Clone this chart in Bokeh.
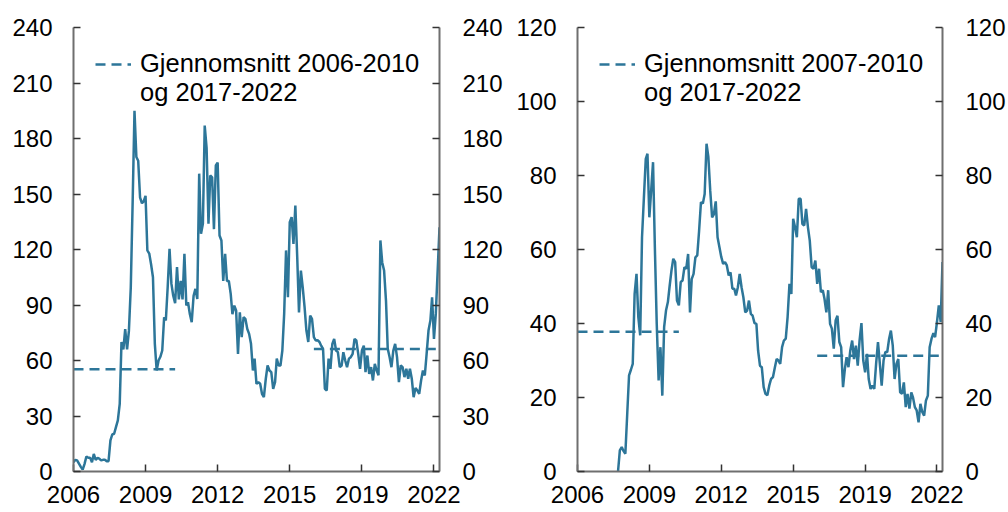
import pandas as pd
from bokeh.plotting import figure
from bokeh.layouts import row
from bokeh.models import (Range1d, LinearAxis, FixedTicker, DatetimeTickFormatter,
                          Legend, LegendItem)
from bokeh.embed import file_html
from bokeh.resources import INLINE

# ---------------- data ----------------
left_start = "2006-01-01"
left_values = [
    5, 6.3, 6, 4.2, 2.5, 1, 4, 8.1, 7.4, 7.5,
    5, 9.5, 6.3, 7.4, 7, 6, 6.3, 6.3, 5.6, 5.6,
    16.8, 20, 20.4, 24, 27.6, 36.6, 70, 66, 77, 66,
    76, 99.6, 146, 195, 170, 168, 148, 145, 146, 149,
    119.5, 117.8, 112, 105, 69, 54.6, 60, 62, 65.4, 83.4,
    81.6, 100, 120.4, 101.4, 95, 91, 110.5, 93, 103, 93,
    117.7, 89.7, 91.5, 85, 80.7, 95, 98.7, 93.3, 161, 128.5,
    133.9, 187, 175, 134, 160, 159, 131, 165.4, 167, 127.6,
    124.9, 103, 117.7, 103, 103, 96, 85, 89.7, 87, 63.6,
    86, 72.6, 83.4, 82.5, 77, 74.4, 69, 54.6, 61, 47.4,
    48.3, 47.4, 42, 40.2, 50, 57.3, 54.6, 53.7, 44.7, 48.3,
    61, 57.3, 57.3, 65.4, 85.2, 119.5, 94.2, 134.8, 137.5, 123,
    143.8, 115.8, 86, 108.6, 99.6, 88.8, 76.2, 70, 84.3, 82.5,
    72.6, 70.8, 71, 70, 68, 66.3, 44.7, 43.8, 61, 55.5,
    69, 71.7, 65.4, 64.5, 56.4, 57.3, 64.5, 60, 56.4, 61,
    61.8, 63.6, 71.7, 70.8, 63.6, 55.5, 65.4, 68, 53.7, 62.7,
    52.8, 56.4, 49.2, 58.2, 54.6, 52, 124.9, 113, 108.6, 92.4,
    66.3, 61.8, 56.4, 65.4, 69, 61.8, 48.3, 57.3, 56.4, 51,
    55.5, 50.1, 55.5, 50.1, 40.2, 45.2, 43.8, 42, 49.2, 54.6,
    51.9, 63.6, 76.2, 81.6, 94.2, 71.7, 85.2, 108.6, 132,
]

right_start = "2007-11-01"
right_values = [
    0, 5.7, 6.6, 5.5, 4.8, 15.6, 26, 27.5,
    29.1, 48, 53.4, 41.7, 36.8, 63.3, 74, 84.5, 85.9, 68.7,
    75.9, 83.6, 60.6, 39.9, 24.6, 33.6, 20.5, 39, 43.5, 45.8,
    50, 54.3, 57.5, 56.6, 46.2, 44.9, 51.2, 51.6, 55.2, 54.8,
    58.8, 43, 52, 53.4, 57.9, 58.4, 65, 72.8, 72.4, 75,
    88.6, 85, 75.9, 68.7, 69.5, 73, 63.3, 60.6, 58, 56.1,
    56.6, 55.7, 53, 53.8, 49.4, 49.4, 47.6, 49.8, 53.4, 49.8,
    47.1, 43, 43.5, 46.2, 42.6, 42.1, 40.1, 39.9, 32.7, 28.6,
    28.2, 22.8, 21, 20.6, 23.2, 25, 25.5, 28, 30.4, 30,
    29.1, 33.6, 35.4, 35.9, 41.7, 50.7, 48, 68.3, 66, 63.3,
    73.7, 73.7, 66.9, 66.5, 71, 66, 62.4, 55.2, 54.8, 57,
    50.7, 54.8, 48.5, 49, 46.7, 43, 49, 39.9, 38.6, 33.2,
    40.8, 42.1, 35, 33.6, 22.8, 27.8, 30.9, 28.2, 32.7, 35.4,
    30.4, 34, 28.6, 35.4, 40.1, 30, 26.8, 31.8, 25, 22.3,
    23.2, 22.3, 29.1, 35, 29.1, 23.2, 30, 32.3, 32.3, 35.9,
    38.1, 34, 25, 29.1, 30.4, 21.4, 21, 24.1, 17.4, 21,
    17, 21.4, 20, 17.4, 16.5, 13.3, 18.3, 16.1, 15.1, 19.2,
    20.5, 33.6, 35.9, 37.4, 36.3, 40.4, 44.9, 40.4, 56.6,
]

# averages (dashed lines)
mean_periods = [("2006-01-01", "2010-08-01"), ("2016-11-01", "2022-05-01")]
left_means = [55.3, 66.2]
right_means = [37.8, 31.3]

left_legend = ["Gjennomsnitt 2006-2010", "og 2017-2022"]
right_legend = ["Gjennomsnitt 2007-2010", "og 2017-2022"]

x_start, x_end = "2006-01-01", "2022-07-01"
x_tick_dates = ["2006-01-01", "2009-04-01", "2012-07-01", "2015-10-01",
                "2019-01-01", "2022-04-01"]
left_yticks = list(range(0, 241, 30))
right_yticks = list(range(0, 121, 20))

# ---------------- style ----------------
COLOR = "#2d7699"
FONT = "Liberation Sans"
FS = "24px"
LEG_FS = "25.5px"


def ms(d):
    return pd.Timestamp(d).value / 1e6


def style_axis(ax, standoff):
    ax.axis_line_color = "#6f6f6f"
    ax.axis_line_width = 2
    ax.major_tick_line_color = "#333333"
    ax.major_tick_line_width = 1.5
    ax.major_tick_in = 7
    ax.major_tick_out = 0
    ax.minor_tick_line_color = None
    ax.major_label_text_font = FONT
    ax.major_label_text_font_size = FS
    ax.major_label_text_color = "#000000"
    ax.major_label_standoff = standoff


def make_panel(values, start, ymax, yticks, means, legend_labels,
               border_left, border_right, frame_w):
    dates = pd.date_range(start, periods=len(values), freq="MS")
    p = figure(x_axis_type="datetime",
               x_range=Range1d(ms(x_start), ms(x_end)),
               y_range=Range1d(0, ymax),
               frame_width=frame_w, frame_height=444,
               min_border_left=border_left, min_border_right=border_right,
               min_border_top=27, min_border_bottom=38,
               output_backend="svg", toolbar_location=None)
    p.outline_line_color = None
    p.grid.visible = False
    p.background_fill_color = "white"
    p.border_fill_color = "white"

    p.line(dates, values, line_color=COLOR, line_width=2.5)

    r_mean = p.multi_line(xs=[[ms(a), ms(b)] for a, b in mean_periods],
                          ys=[[m, m] for m in means],
                          line_color=COLOR, line_width=2.5, line_dash="10 6")
    r_blank = p.line(x=[], y=[], line_alpha=0)

    xax = p.xaxis[0]
    xax.ticker = FixedTicker(ticks=[ms(d) for d in x_tick_dates])
    xax.formatter = DatetimeTickFormatter(
        years="%Y", months="%Y", days="%Y", hours="%Y", hourmin="%Y",
        minutes="%Y", minsec="%Y", seconds="%Y", milliseconds="%Y",
        microseconds="%Y")
    style_axis(xax, 14)

    yax = p.yaxis[0]
    yax.ticker = FixedTicker(ticks=yticks)
    style_axis(yax, 21)

    yr = LinearAxis(ticker=FixedTicker(ticks=yticks))
    style_axis(yr, 23)
    p.add_layout(yr, "right")

    legend = Legend(items=[LegendItem(label=legend_labels[0], renderers=[r_mean]),
                           LegendItem(label=legend_labels[1], renderers=[r_blank])],
                    location="top_left")
    legend.margin = 0
    legend.padding = 22
    legend.spacing = 0
    legend.glyph_width = 36
    legend.glyph_height = 28
    legend.label_height = 28
    legend.label_standoff = 9
    legend.label_text_font = FONT
    legend.label_text_font_size = LEG_FS
    legend.label_text_color = "#000000"
    legend.border_line_alpha = 0
    legend.background_fill_alpha = 0
    p.add_layout(legend)
    return p


p1 = make_panel(left_values, left_start, 240, left_yticks, left_means, left_legend,
                73, 69, 366)
p2 = make_panel(right_values, right_start, 120, right_yticks, right_means, right_legend,
                69, 56, 365)

layout = row(p1, p2)
open("out.html", "w").write(file_html(layout, INLINE))
